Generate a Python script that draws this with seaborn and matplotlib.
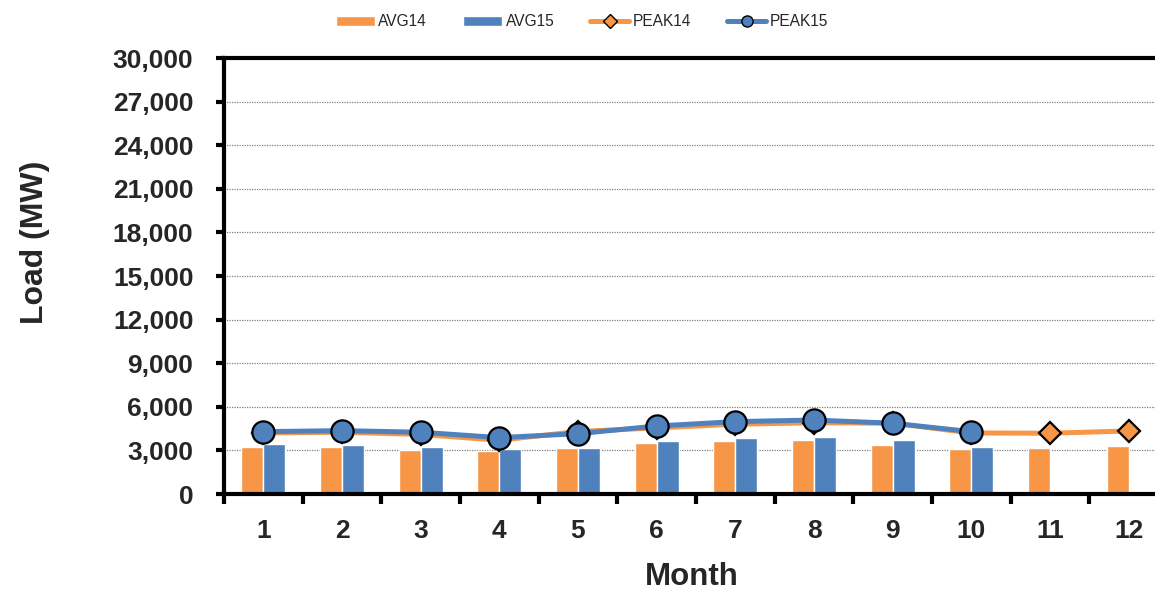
import numpy as np
import pandas as pd
import matplotlib
matplotlib.use("Agg")
import matplotlib.pyplot as plt
from matplotlib.lines import Line2D
from matplotlib.patches import Patch
from matplotlib.ticker import FuncFormatter, FixedLocator
import seaborn as sns

months = [1, 2, 3, 4, 5, 6, 7, 8, 9, 10, 11, 12]
avg14 = [3210, 3210, 3000, 2960, 3150, 3490, 3670, 3720, 3350, 3120, 3190, 3300]
avg15 = [3420, 3370, 3230, 3100, 3170, 3630, 3880, 3940, 3720, 3210, np.nan, np.nan]
peak14 = [4200, 4250, 4100, 3700, 4300, 4550, 4800, 4900, 4870, 4200, 4180, 4340]
peak15 = [4290, 4360, 4250, 3880, 4150, 4680, 4980, 5090, 4870, 4290, np.nan, np.nan]
yticks = [0, 3000, 6000, 9000, 12000, 15000, 18000, 21000, 24000, 27000, 30000]

ORANGE = "#F79646"
BLUE = "#4F81BD"

sns.set_theme(style="white")
plt.rcParams["font.family"] = ["Liberation Sans", "DejaVu Sans"]

bars = pd.DataFrame({
    "Month": months * 2,
    "Load": avg14 + avg15,
    "Series": ["AVG14"] * 12 + ["AVG15"] * 12,
}).dropna()

fig = plt.figure(figsize=(11.55, 5.92), dpi=100)
ax = fig.add_axes([224 / 1155, 98 / 592, (1168 - 224) / 1155, 436 / 592])

sns.barplot(data=bars, x="Month", y="Load", hue="Series", order=months,
            hue_order=["AVG14", "AVG15"], palette=[ORANGE, BLUE], saturation=1,
            width=0.56, errorbar=None, legend=False, ax=ax, zorder=2)

pos = np.arange(len(months))
sns.lineplot(x=pos, y=peak14, color=ORANGE, lw=3.6, marker="D", markersize=11,
             markerfacecolor=ORANGE, markeredgecolor="black", markeredgewidth=1.6,
             ax=ax, zorder=3)
sns.lineplot(x=pos, y=peak15, color=BLUE, lw=3.6, marker="o", markersize=16,
             markerfacecolor=BLUE, markeredgecolor="black", markeredgewidth=1.6,
             ax=ax, zorder=4)

ax.set_xlim(-0.5, len(months) - 0.5)
ax.set_ylim(0, 30000)
ax.set_yticks(yticks)
ax.yaxis.set_major_formatter(FuncFormatter(lambda v, p: f"{int(v):,}"))
ax.grid(axis="y", color="#808080", linestyle=(0, (1, 1)), lw=0.9, zorder=0)
ax.set_axisbelow(True)

for s in ["left", "bottom", "top"]:
    ax.spines[s].set_visible(True)
    ax.spines[s].set_color("black")
    ax.spines[s].set_linewidth(3)
ax.spines["right"].set_visible(False)

ax.set_xticks(pos)
ax.set_xticklabels([str(m) for m in months])
ax.xaxis.set_minor_locator(FixedLocator(np.arange(-0.5, len(months), 1.0)))
ax.tick_params(axis="x", which="major", length=0, pad=18, labelsize=19)
ax.tick_params(axis="x", which="minor", length=7, width=3, color="black",
               direction="out", bottom=True)
ax.tick_params(axis="y", which="major", length=6, width=3, color="black",
               direction="out", left=True, pad=16, labelsize=19)
for lab in ax.get_xticklabels() + ax.get_yticklabels():
    lab.set_fontweight("bold")

ax.set_xlabel("Month", fontsize=22.5, fontweight="bold")
ax.set_ylabel("Load (MW)", fontsize=23, fontweight="bold")
ax.xaxis.set_label_coords((692 - 224) / (1168 - 224), -(562 - 494) / 436)
ax.yaxis.set_label_coords(-(224 - 20) / (1168 - 224), (494 - 242) / 436)
ax.yaxis.label.set_va("top")

handles = [
    Patch(facecolor=ORANGE, label="AVG14"),
    Patch(facecolor=BLUE, label="AVG15"),
    Line2D([], [], color=ORANGE, lw=3.6, marker="D", markersize=7,
           markerfacecolor=ORANGE, markeredgecolor="black", label="PEAK14"),
    Line2D([], [], color=BLUE, lw=3.6, marker="o", markersize=8,
           markerfacecolor=BLUE, markeredgecolor="black", label="PEAK15"),
]
fig.legend(handles=handles, loc="center", bbox_to_anchor=(582 / 1155, 1 - 22 / 592),
           ncol=4, frameon=False, fontsize=11.2, handlelength=2.5, handleheight=0.6,
           columnspacing=2.3, handletextpad=0.25)

fig.savefig("out.png", dpi=100)
